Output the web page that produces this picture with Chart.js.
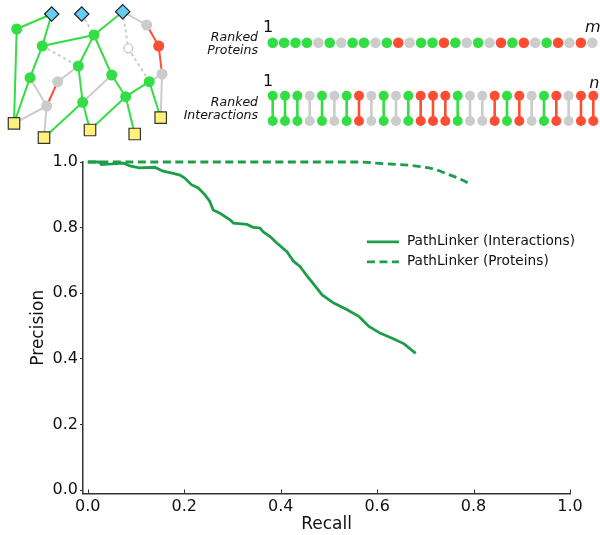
<!DOCTYPE html>
<html>
<head>
<meta charset="utf-8">
<script src="https://cdn.jsdelivr.net/npm/chart.js@4.4.1/dist/chart.umd.min.js"></script>
<style>
  html, body { margin: 0; padding: 0; background: #fff; }
  #wrap { position: relative; width: 600px; height: 535px; }
  #wrap canvas { position: absolute; }
</style>
</head>
<body>
<div id="wrap">
  <canvas id="prChart" width="600" height="535" style="left:0;top:0"></canvas>
  <canvas id="netChart" width="175" height="150" style="left:0;top:0"></canvas>
  <canvas id="rankChart" width="430" height="140" style="left:170px;top:0"></canvas>
</div>
<script>
/* ---- precision / recall curves ---- */
const recallInteractions = [0, 0.024, 0.028, 0.05, 0.073, 0.087, 0.107, 0.139, 0.156, 0.175, 0.191, 0.201,
  0.215, 0.229, 0.243, 0.253, 0.26, 0.274, 0.295, 0.302, 0.33, 0.343, 0.357, 0.364, 0.378, 0.392,
  0.413, 0.427, 0.44, 0.455, 0.472, 0.486, 0.51, 0.538, 0.562, 0.583, 0.607, 0.631, 0.656, 0.68];
const precisionInteractions = [1.0, 1.0, 0.992, 0.994, 0.997, 0.988, 0.982, 0.984, 0.972, 0.966, 0.96, 0.951,
  0.931, 0.921, 0.90, 0.88, 0.854, 0.844, 0.824, 0.814, 0.81, 0.801, 0.799, 0.787, 0.773, 0.753,
  0.727, 0.697, 0.682, 0.652, 0.621, 0.595, 0.57, 0.55, 0.53, 0.499, 0.478, 0.463, 0.446, 0.417];

const recallProteins = [0, 0.566, 0.613, 0.669, 0.708, 0.728, 0.746, 0.763, 0.78, 0.792];
const precisionProteins = [1.0, 1.0, 0.995, 0.99, 0.982, 0.974, 0.963, 0.954, 0.943, 0.933];

const tickValues = [0, 0.2, 0.4, 0.6, 0.8, 1.0];

/* ---- ranked lists (p = positive, n = negative, u = unlabeled) ---- */
const rankedProteins = ['p','p','p','p','u','p','u','p','p','u','p','n','u','p','p','n','p','u','p','u',
  'n','p','n','u','p','n','u','n','u'];
const rankedInteractions = ['p','p','p','u','p','u','p','n','u','p','u','p','n','n','n','p','u','u','n','p',
  'n','u','p','n','u','n','n'];

/* ---- toy network ---- */
const nodeNames = ['s1','s2','s3','a','b','c','d','e','f','g','h','i','r1','n1','n2','n3','n4','m1','t1','t2','t3','t4','t5'];
const nodeX = [51.7, 81.7, 122.7, 16.7, 42.3, 94, 78.3, 30, 111.7, 82.7, 125.7, 149.3, 158.7, 146.7, 57.7, 46.7, 162, 128.3, 14, 44, 90, 134.7, 160.7];
const nodeY = [14, 14, 11.7, 29, 46, 35, 66, 77.7, 75, 102.3, 96.7, 81.7, 46, 25, 81.7, 106, 74, 48.3, 123.3, 137.7, 130, 134, 117.7];
const nodeKind = ['source','source','source','p','p','p','p','p','p','p','p','p','n','u','u','u','u','missing',
  'target','target','target','target','target'];
const edges = [
  ['a','s1','p'], ['a','t1','p'], ['s1','b','p'], ['b','c','p'], ['c','s3','p'], ['s2','c','missing'],
  ['b','d','missing'], ['b','e','p'], ['e','t1','p'], ['e','n3','u'], ['n3','t1','u'], ['n3','t2','u'],
  ['n2','n3','n'], ['n2','d','u'], ['c','d','p'], ['c','f','p'], ['d','g','p'], ['g','t2','p'],
  ['g','t3','p'], ['g','f','u'], ['f','h','p'], ['h','t3','p'], ['h','t4','p'], ['h','i','p'],
  ['i','t5','p'], ['n4','t5','u'], ['i','n4','u'], ['n1','r1','n'], ['r1','n4','n'], ['s3','n1','u'],
  ['s3','m1','missing'], ['m1','i','missing']
];

const AXIS = '#333333';
const LINE_GREEN = '#1c9e48';
const KIND_COLOR = { p: '#33dd44', n: '#ff4d33', u: '#cccccc', missing: '#cccccc' };

Chart.defaults.font.family = '"DejaVu Sans", sans-serif';
Chart.defaults.color = '#111';

function toXY(xs, ys) {
  return xs.map((x, i) => ({ x: x, y: ys[i] }));
}

/* x ticks point into the plot */
const xTicksIn = {
  id: 'xTicksIn',
  afterDraw(chart) {
    const s = chart.scales.x, ctx = chart.ctx;
    ctx.save();
    ctx.strokeStyle = AXIS;
    ctx.lineWidth = 1;
    s.ticks.forEach(t => {
      const px = Math.round(s.getPixelForValue(t.value)) + 0.5;
      ctx.beginPath();
      ctx.moveTo(px, s.top);
      ctx.lineTo(px, s.top - 4);
      ctx.stroke();
    });
    ctx.restore();
  }
};

const prLegend = {
  id: 'prLegend',
  afterDatasetsDraw(chart) {
    const { ctx, chartArea: a } = chart;
    const x0 = a.left + 0.583 * (a.right - a.left);
    let y = a.top + 0.241 * (a.bottom - a.top);
    ctx.save();
    chart.data.datasets.forEach(ds => {
      ctx.strokeStyle = ds.borderColor;
      ctx.lineWidth = ds.borderWidth;
      ctx.setLineDash(ds.borderDash || []);
      ctx.beginPath();
      ctx.moveTo(x0, y);
      ctx.lineTo(x0 + 32, y);
      ctx.stroke();
      ctx.setLineDash([]);
      ctx.fillStyle = '#111';
      ctx.font = '13.7px "DejaVu Sans"';
      ctx.textBaseline = 'middle';
      ctx.textAlign = 'left';
      ctx.fillText(ds.label, x0 + 40, y);
      y += 20;
    });
    ctx.restore();
  }
};

new Chart(document.getElementById('prChart'), {
  type: 'line',
  data: {
    datasets: [
      {
        label: 'PathLinker (Interactions)',
        data: toXY(recallInteractions, precisionInteractions),
        borderColor: LINE_GREEN, borderWidth: 2.8, pointRadius: 0, tension: 0, fill: false, clip: false
      },
      {
        label: 'PathLinker (Proteins)',
        data: toXY(recallProteins, precisionProteins),
        borderColor: LINE_GREEN, borderWidth: 2.8, borderDash: [8, 4.5],
        pointRadius: 0, tension: 0, fill: false, clip: false
      }
    ]
  },
  options: {
    responsive: false,
    animation: false,
    layout: { autoPadding: false, padding: { top: 162, right: 30, left: 0, bottom: 0 } },
    plugins: { legend: { display: false }, tooltip: { enabled: false } },
    scales: {
      x: {
        type: 'linear', min: -0.01, max: 1.0,
        afterBuildTicks: s => { s.ticks = tickValues.map(v => ({ value: v })); },
        afterFit: s => { s.height = 41.5; },
        grid: { drawOnChartArea: false, drawTicks: false },
        border: { color: AXIS, width: 1.5 },
        ticks: { callback: v => v.toFixed(1), font: { size: 16 }, padding: 4, maxRotation: 0, color: '#111' },
        title: { display: true, text: 'Recall', font: { size: 17 }, padding: { top: 0, bottom: 0 }, color: '#111' }
      },
      y: {
        type: 'linear', min: -0.01, max: 1.0,
        afterBuildTicks: s => { s.ticks = tickValues.map(v => ({ value: v })); },
        afterFit: s => { s.width = 83; },
        grid: { drawOnChartArea: false, tickLength: 3, color: AXIS },
        border: { color: AXIS, width: 1.5 },
        ticks: { callback: v => v.toFixed(1), font: { size: 16 }, padding: 2, color: '#111' },
        title: { display: true, text: 'Precision', font: { size: 17 }, padding: { top: 28.8, bottom: 0 }, color: '#111' }
      }
    }
  },
  plugins: [xTicksIn, prLegend]
});

/* ---- network schematic ---- */
const nodeStyle = {
  source:  { pointStyle: 'rectRot', radius: 7.2, bg: '#66ccf4', border: '#222', bw: 1.2 },
  target:  { pointStyle: 'rect', radius: 8.1, bg: '#fff17a', border: '#333', bw: 1.2 },
  p:       { pointStyle: 'circle', radius: 5.5, bg: KIND_COLOR.p, border: KIND_COLOR.p, bw: 0 },
  n:       { pointStyle: 'circle', radius: 5.5, bg: KIND_COLOR.n, border: KIND_COLOR.n, bw: 0 },
  u:       { pointStyle: 'circle', radius: 5.5, bg: KIND_COLOR.u, border: KIND_COLOR.u, bw: 0 },
  missing: { pointStyle: 'circle', radius: 4.5, bg: '#ffffff', border: '#c8c8c8', bw: 1.3 }
};

const netDatasets = [];
Object.keys(nodeStyle).forEach(kind => {
  const st = nodeStyle[kind];
  const pts = [];
  nodeNames.forEach((nm, i) => { if (nodeKind[i] === kind) pts.push({ x: nodeX[i], y: nodeY[i] }); });
  netDatasets.push({
    data: pts, showLine: false, order: 0,
    pointStyle: st.pointStyle, pointRadius: st.radius,
    pointBackgroundColor: st.bg, pointBorderColor: st.border, pointBorderWidth: st.bw
  });
});
edges.forEach(([from, to, kind]) => {
  const i = nodeNames.indexOf(from), j = nodeNames.indexOf(to);
  netDatasets.push({
    data: [{ x: nodeX[i], y: nodeY[i] }, { x: nodeX[j], y: nodeY[j] }],
    showLine: true, order: 1, pointRadius: 0,
    borderColor: KIND_COLOR[kind], borderWidth: 2,
    borderDash: kind === 'missing' ? [3, 3] : []
  });
});

new Chart(document.getElementById('netChart'), {
  type: 'scatter',
  data: { datasets: netDatasets },
  options: {
    responsive: false,
    animation: false,
    layout: { autoPadding: false, padding: 0 },
    plugins: { legend: { display: false }, tooltip: { enabled: false } },
    scales: {
      x: { type: 'linear', min: 0, max: 175, display: false },
      y: { type: 'linear', min: 0, max: 150, reverse: true, display: false }
    }
  }
});

/* ---- ranked proteins / interactions ---- */
const RANK_LEFT = 170;
const PROT_Y = 42.7, INT_TOP = 95.7, INT_BOT = 121;

// scale range so rank 1 and rank n land at the given page x
function rankRange(n, firstPx, lastPx, width) {
  const step = (lastPx - firstPx) / (n - 1);
  return { min: 1 - (firstPx - RANK_LEFT) / step, max: n + (RANK_LEFT + width - lastPx) / step };
}
const protRange = rankRange(rankedProteins.length, 272.7, 592.3, 430);
const intRange = rankRange(rankedInteractions.length, 272.7, 593.3, 430);

const rankDatasets = [{
  xAxisID: 'xp',
  data: rankedProteins.map((k, i) => ({ x: i + 1, y: PROT_Y })),
  showLine: false, pointRadius: 5.3, pointBorderWidth: 0,
  pointBackgroundColor: rankedProteins.map(k => KIND_COLOR[k])
}];
rankedInteractions.forEach((k, i) => {
  rankDatasets.push({
    xAxisID: 'xi',
    data: [{ x: i + 1, y: INT_TOP }, { x: i + 1, y: INT_BOT }],
    showLine: true, borderColor: KIND_COLOR[k], borderWidth: 2.6,
    pointRadius: 5, pointBorderWidth: 0, pointBackgroundColor: KIND_COLOR[k]
  });
});

const rankText = {
  id: 'rankText',
  afterDraw(chart) {
    const { ctx } = chart;
    const xp = chart.scales.xp, xi = chart.scales.xi, y = chart.scales.y;
    ctx.save();
    ctx.fillStyle = '#111';
    ctx.textBaseline = 'middle';
    ctx.font = 'italic 12.5px "DejaVu Sans"';
    ctx.textAlign = 'right';
    const lx = xp.getPixelForValue(1) - 14.7;
    const py = y.getPixelForValue(PROT_Y);
    ctx.fillText('Ranked', lx, py - 5);
    ctx.fillText('Proteins', lx, py + 8.3);
    const iy = y.getPixelForValue((INT_TOP + INT_BOT) / 2);
    ctx.fillText('Ranked', lx, iy - 5.7);
    ctx.fillText('Interactions', lx, iy + 7.6);

    ctx.font = '16px "DejaVu Sans"';
    ctx.textAlign = 'center';
    ctx.fillText('1', xp.getPixelForValue(1) - 4.7, py - 15);
    ctx.fillText('1', xi.getPixelForValue(1) - 4.7, y.getPixelForValue(INT_TOP) - 13.5);
    ctx.font = 'italic 16px "DejaVu Sans"';
    ctx.fillText('m', xp.getPixelForValue(rankedProteins.length) + 0.5, py - 14.5);
    ctx.fillText('n', xi.getPixelForValue(rankedInteractions.length) + 1, y.getPixelForValue(INT_TOP) - 12);
    ctx.restore();
  }
};

new Chart(document.getElementById('rankChart'), {
  type: 'scatter',
  data: { datasets: rankDatasets },
  options: {
    responsive: false,
    animation: false,
    layout: { autoPadding: false, padding: 0 },
    plugins: { legend: { display: false }, tooltip: { enabled: false } },
    scales: {
      xp: { type: 'linear', axis: 'x', min: protRange.min, max: protRange.max, display: false },
      xi: { type: 'linear', axis: 'x', min: intRange.min, max: intRange.max, display: false },
      y: { type: 'linear', min: 0, max: 140, reverse: true, display: false }
    }
  },
  plugins: [rankText]
});
</script>
</body>
</html>
